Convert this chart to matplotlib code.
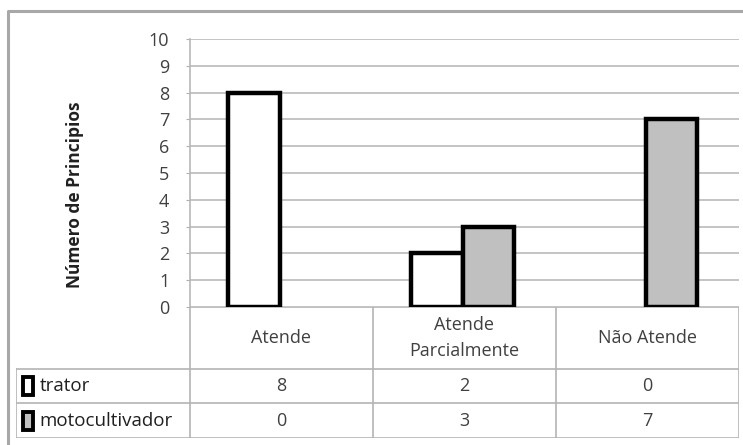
import matplotlib.pyplot as plt

plt.rcParams['font.family'] = ['Open Sans', 'DejaVu Sans']

categorias = ['Atende', 'Atende\nParcialmente', 'Não Atende']
series = ['trator', 'motocultivador']
trator = [8, 2, 0]
motocultivador = [0, 3, 7]
cores = ['white', '#c0c0c0']
yticks = list(range(0, 11))

W, H = 743, 445
fig = plt.figure(figsize=(W / 100, H / 100), dpi=100)

def px(x0, y0, x1, y1):
    # pixel box (top-left origin) -> figure fraction rect
    return [x0 / W, 1 - y1 / H, (x1 - x0) / W, (y1 - y0) / H]

# moldura externa
frame = fig.add_axes([0, 0, 1, 1])
frame.set_xlim(0, W)
frame.set_ylim(H, 0)
frame.axis('off')
frame.plot([8, 8, W], [H, 11, 11], color='#a8a8a8', lw=2.2)

ax = fig.add_axes(px(190, 39, 739, 307))
x = list(range(len(categorias)))
larg = 0.28
for vals, cor, desl in [(trator, cores[0], -0.15), (motocultivador, cores[1], 0.13)]:
    lws = [3.2 if v > 0 else 0 for v in vals]
    ax.bar([i + desl for i in x], vals, width=larg, color=cor,
           edgecolor='black', linewidth=lws, zorder=3)
ax.set_xlim(-0.5, 2.5)
ax.set_ylim(0, 10)
ax.set_yticks(yticks)
ax.set_yticklabels([str(t) for t in yticks], fontsize=13, color='#404040')
ax.tick_params(axis='y', length=3, color='#b0b0b0', pad=12)
ax.set_xticks([])
ax.grid(axis='y', color='#c4c4c4', lw=1.4, zorder=0)
for s in ['top', 'right', 'bottom']:
    ax.spines[s].set_visible(False)
ax.spines['left'].set_color('#b8b8b8')
ax.spines['left'].set_linewidth(1.2)
ax.set_ylabel('Número de Principios', fontsize=12.5, fontweight='bold',
              color='#202020', va='center')
ax.yaxis.set_label_coords(-0.209, 0.418)

# tabela de dados abaixo do gráfico
tab = fig.add_axes(px(16, 307, 739, 438))
tab.set_xlim(-1.45, 2.5)
tab.set_ylim(131, 0)
tab.axis('off')
linhas = [0, 62, 96, 131]
cinza = '#b4b4b4'
tab.plot([-0.5, 2.5], [0, 0], color=cinza, lw=1.2)
for yl in linhas[1:]:
    tab.plot([-1.45, 2.5], [yl, yl], color=cinza, lw=1.2)
for xv in [-0.5, 0.5, 1.5, 2.5]:
    tab.plot([xv, xv], [0, 131], color=cinza, lw=1.2)
tab.plot([-1.45, -1.45], [62, 131], color=cinza, lw=1.2)

for i, cat in enumerate(categorias):
    tab.text(i, 31, cat, ha='center', va='center', fontsize=13,
             color='#404040', linespacing=1.5)
for r, (nome, vals, cor) in enumerate(zip(series, [trator, motocultivador], cores)):
    yc = (linhas[r + 1] + linhas[r + 2]) / 2
    tab.add_patch(plt.Rectangle((-1.41, yc - 9), 0.055, 18, facecolor=cor,
                                edgecolor='black', lw=2.8))
    tab.text(-1.32, yc, nome, ha='left', va='center', fontsize=13.5, color='#202020')
    for i, v in enumerate(vals):
        tab.text(i, yc, str(v), ha='center', va='center', fontsize=13, color='#404040')

fig.savefig('out.png', dpi=100)
